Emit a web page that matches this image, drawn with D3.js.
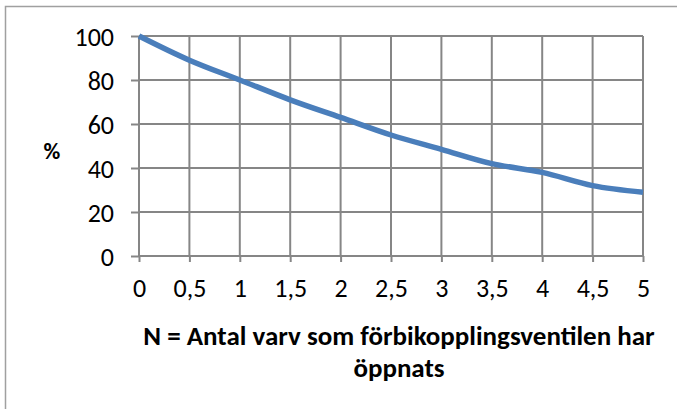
<!DOCTYPE html>
<html>
<head>
<meta charset="utf-8">
<script src="https://cdn.jsdelivr.net/npm/d3@7"></script>
<style>
  body { margin: 0; background: #fff; }
  svg text { font-family: Carlito, Lato, sans-serif; fill: #000; }
</style>
</head>
<body>
<div id="chart"></div>
<script>
// values
var varv = [0, 0.5, 1, 1.5, 2, 2.5, 3, 3.5, 4, 4.5, 5];
var procent = [100, 89, 80, 71, 63, 55, 48.5, 42, 38, 32, 29];
var xTicks = [0, 0.5, 1, 1.5, 2, 2.5, 3, 3.5, 4, 4.5, 5];
var yTicks = [0, 20, 40, 60, 80, 100];
var titleLines = ["N = Antal varv som förbikopplingsventilen har", "öppnats"];

var width = 677, height = 409;
var margin = { top: 36, right: 34, bottom: 153, left: 139 };
var w = width - margin.left - margin.right,
    h = height - margin.top - margin.bottom;

var svg = d3.select("#chart").append("svg")
    .attr("width", width)
    .attr("height", height);

// outer chart border (runs off the right and bottom edge)
svg.append("rect")
    .attr("x", 5.5).attr("y", 6.5)
    .attr("width", 700).attr("height", 500)
    .attr("fill", "none")
    .attr("stroke", "#a0a0a0")
    .attr("stroke-width", 1.5);

var g = svg.append("g")
    .attr("transform", "translate(" + margin.left + "," + margin.top + ")");

var x = d3.scaleLinear().domain([0, 5]).range([0, w]);
var y = d3.scaleLinear().domain([0, 100]).range([h, 0]);

// gridlines
g.selectAll(".vgrid").data(xTicks.slice(1)).enter().append("line")
    .attr("x1", d => x(d)).attr("x2", d => x(d))
    .attr("y1", 0).attr("y2", h)
    .attr("stroke", "#868686").attr("stroke-width", 2);

g.selectAll(".hgrid").data(yTicks.slice(1)).enter().append("line")
    .attr("x1", 0).attr("x2", w)
    .attr("y1", d => y(d)).attr("y2", d => y(d))
    .attr("stroke", "#868686").attr("stroke-width", 2);

var fmt = d => String(d).replace(".", ",");

var yAxis = d3.axisLeft(y).tickValues(yTicks).tickSize(8).tickPadding(17).tickFormat(fmt);
var xAxis = d3.axisBottom(x).tickValues(xTicks).tickSize(6).tickPadding(16).tickFormat(fmt);

var ya = g.append("g").call(yAxis);
var xa = g.append("g").attr("transform", "translate(0," + h + ")").call(xAxis);

[ya, xa].forEach(a => {
    a.attr("font-family", null);
    a.select(".domain").attr("stroke", "#868686").attr("stroke-width", 2);
    a.selectAll(".tick line").attr("stroke", "#868686").attr("stroke-width", 2);
    a.selectAll("text").style("font-size", "26px");
});
ya.selectAll(".tick text").attr("dy", "0.38em");
xa.selectAll(".tick text").attr("dy", "0.72em");
xa.select(".domain").attr("d", "M0,0H" + w);
ya.select(".domain").attr("d", "M0," + h + "V0");

// the curve
var line = d3.line()
    .x((d, i) => x(varv[i]))
    .y(d => y(d))
    .curve(d3.curveCatmullRom.alpha(0.5));

g.append("path")
    .datum(procent)
    .attr("d", line)
    .attr("fill", "none")
    .attr("stroke", "#4a7ebb")
    .attr("stroke-width", 5.5)
    .attr("stroke-linecap", "butt");

// axis titles
svg.append("text")
    .attr("x", 52).attr("y", 159)
    .attr("text-anchor", "middle")
    .style("font-size", "23px").style("font-weight", "bold")
    .text("%");

svg.selectAll(".xtitle").data(titleLines).enter().append("text")
    .attr("x", 399)
    .attr("y", (d, i) => 345 + i * 32)
    .attr("text-anchor", "middle")
    .style("font-size", "27px").style("font-weight", "bold")
    .text(d => d);
</script>
</body>
</html>
